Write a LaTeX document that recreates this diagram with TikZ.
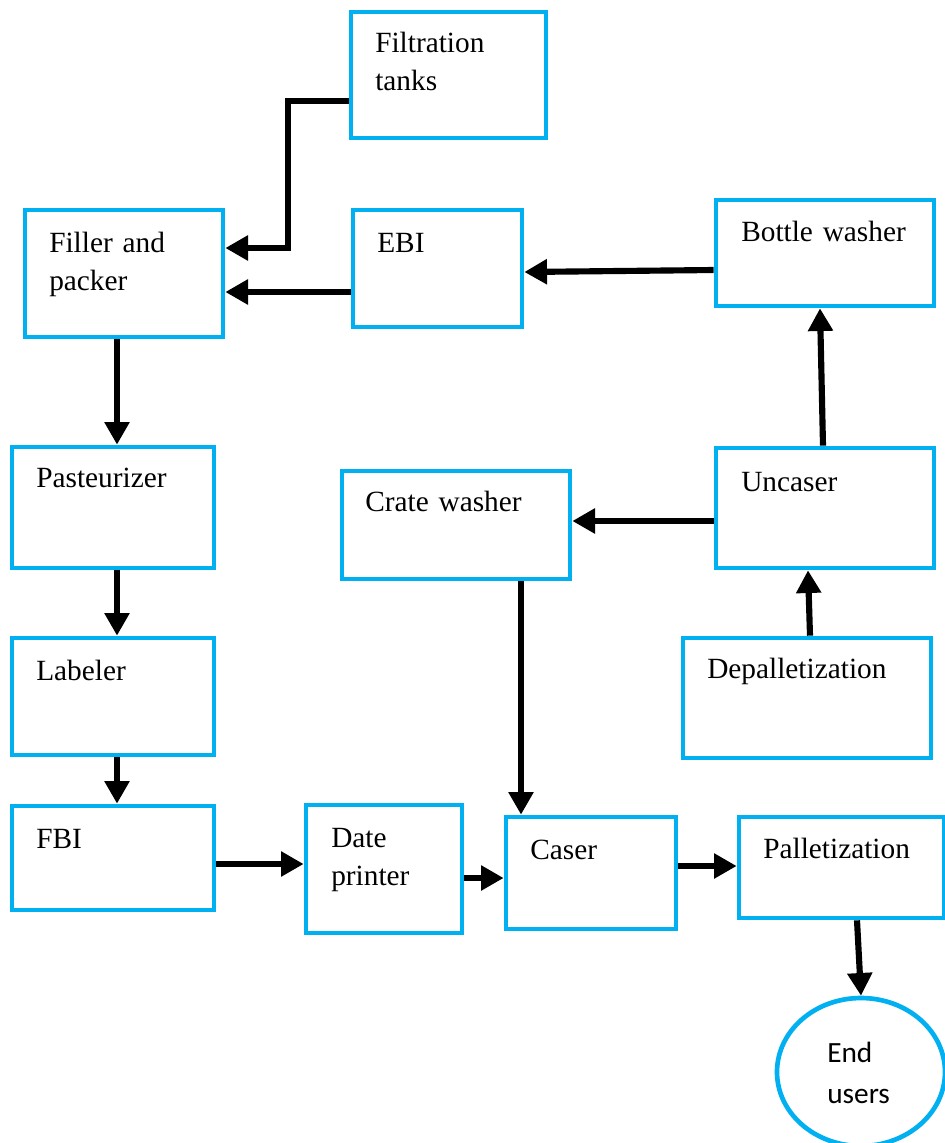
\documentclass[tikz,border=0pt]{standalone}
\usepackage{fontspec}
\setmainfont{Liberation Serif}
\newfontfamily\ellfont{Carlito}
\usetikzlibrary{fit,shapes.geometric,arrows.meta}
\definecolor{boxblue}{HTML}{00B0F0}

\begin{document}
\begin{tikzpicture}[x=0.75pt,y=-0.75pt,
  stepbox/.style={draw=boxblue, line width=3.5pt, inner sep=0pt, fill=white},
  lbl/.style={anchor=base west, inner sep=0pt, text width=200pt, align=left,
              font=\fontsize{22}{28.5}\selectfont},
  arr/.style={line width=4.6pt, line join=miter, -{Triangle[length=17pt,width=18pt]}},
  ]
\useasboundingbox (0,0) rectangle (945,1143);

% process boxes
\node[stepbox, fit={(351,12) (546,138)}]   (filt)  {};
\node[stepbox, fit={(25,210) (223,337)}]   (fill)  {};
\node[stepbox, fit={(353,210) (522,327)}]  (ebi)   {};
\node[stepbox, fit={(716,200) (934,306)}]  (bw)    {};
\node[stepbox, fit={(12,447) (214,568)}]   (past)  {};
\node[stepbox, fit={(342,471) (570,579)}]  (cw)    {};
\node[stepbox, fit={(716,448) (934,568)}]  (unc)   {};
\node[stepbox, fit={(683,638) (931,758)}]  (dep)   {};
\node[stepbox, fit={(12,638) (214,755)}]   (lab)   {};
\node[stepbox, fit={(12,806) (214,910)}]   (fbi)   {};
\node[stepbox, fit={(306,805) (462,933)}]  (date)  {};
\node[stepbox, fit={(506,817) (676,929)}]  (caser) {};
\node[stepbox, fit={(739,817) (944,918)}]  (pal)   {};
\node[draw=boxblue, line width=3.5pt, ellipse, inner sep=0pt,
      minimum width=126pt, minimum height=111pt] (endu) at (861,1072) {};

% box labels
\node[lbl] (filt-t)  at (375,52)  {Filtration\\tanks};
\node[lbl] (fill-t)  at (49,252)  {Filler and\\packer};
\node[lbl] (ebi-t)   at (377,252) {EBI};
\node[lbl] (bw-t)    at (741,241) {Bottle washer};
\node[lbl] (past-t)  at (36,487)  {Pasteurizer};
\node[lbl] (cw-t)    at (365,511) {Crate washer};
\node[lbl] (unc-t)   at (741,491) {Uncaser};
\node[lbl] (dep-t)   at (707,678) {Depalletization};
\node[lbl] (lab-t)   at (36,680)  {Labeler};
\node[lbl] (fbi-t)   at (36,848)  {FBI};
\node[lbl] (date-t)  at (331,847) {Date\\printer};
\node[lbl] (caser-t) at (530,859) {Caser};
\node[lbl] (pal-t)   at (763,858) {Palletization};
\node[anchor=base west, inner sep=0pt, text width=100pt, align=left,
      font=\ellfont\fontsize{22}{31}\selectfont] (endu-t) at (827,1062) {End\\users};

% connectors
\coordinate (kA) at (288,101);
\coordinate (kB) at (288,248);
\draw[arr] (filt.west |- kA) -- (kA) -- (kB) -- (fill.east |- kB);
\draw[arr] (ebi.west |- 0,292) -- (fill.east |- 0,292);
\draw[arr] (bw.west |- 0,270) -- (ebi.east |- 0,272);
\draw[arr] (unc.north -| 823,0) -- (bw.south -| 820,0);
\draw[arr] (unc.west |- 0,521) -- (cw.east |- 0,521);
\draw[arr] (dep.north -| 810,0) -- (unc.south -| 808,0);
\draw[arr] (fill.south -| 117,0) -- (past.north -| 117,0);
\draw[arr] (past.south -| 117,0) -- (lab.north -| 117,0);
\draw[arr] (lab.south -| 117,0) -- (fbi.north -| 117,0);
\draw[arr] (fbi.east |- 0,864) -- (date.west |- 0,864);
\draw[arr] (date.east |- 0,878) -- (caser.west |- 0,878);
\draw[arr] (cw.south -| 521,0) -- (caser.north -| 521,0);
\draw[arr] (caser.east |- 0,866) -- (pal.west |- 0,866);
\draw[arr] (pal.south -| 857,0) -- (endu.north);
\end{tikzpicture}
\end{document}
